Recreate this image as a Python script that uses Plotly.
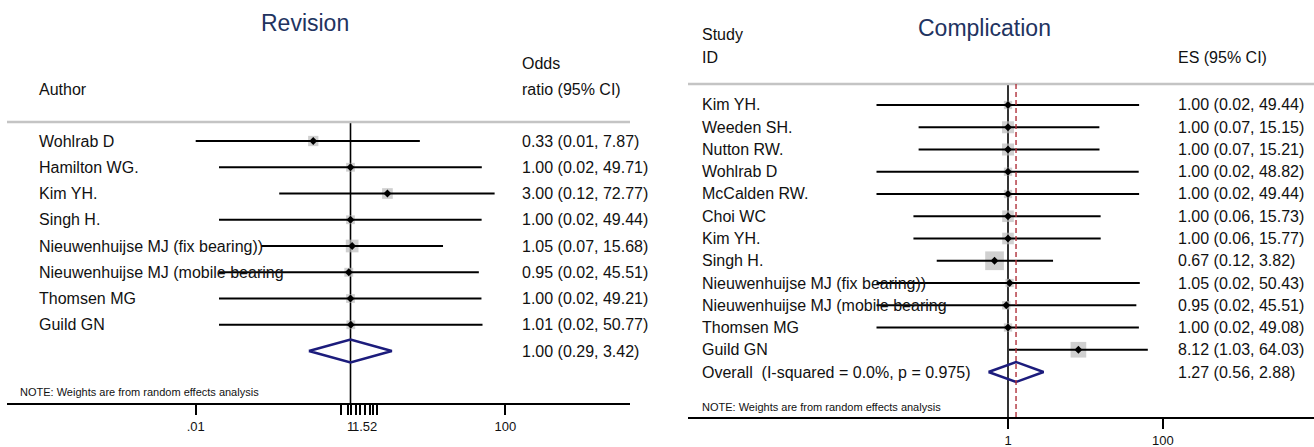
import math
import plotly.graph_objects as go

W, H = 1314, 447
FONT = "Liberation Sans, Arial, sans-serif"

# ---- Revision: odds ratios per study ----
rev_authors = ["Wohlrab D", "Hamilton WG.", "Kim YH.", "Singh H.",
               "Nieuwenhuijse MJ (fix bearing))", "Nieuwenhuijse MJ (mobile bearing",
               "Thomsen MG", "Guild GN"]
rev_or = [0.33, 1.00, 3.00, 1.00, 1.05, 0.95, 1.00, 1.01]
rev_lo = [0.01, 0.02, 0.12, 0.02, 0.07, 0.02, 0.02, 0.02]
rev_hi = [7.87, 49.71, 72.77, 49.44, 15.68, 45.51, 49.21, 50.77]
rev_pooled = [1.00, 0.29, 3.42]          # estimate, lower, upper
rev_ticks = [0.01, 1, 1.52, 100]
rev_ticklabels = [".01", "1", "1.52", "100"]
rev_minor = [0.76, 0.92, 1.19, 1.34, 1.79, 1.98, 2.23]

# ---- Complication: effect sizes per study ----
comp_studies = ["Kim YH.", "Weeden SH.", "Nutton RW.", "Wohlrab D", "McCalden RW.",
                "Choi WC", "Kim YH.", "Singh H.", "Nieuwenhuijse MJ (fix bearing))",
                "Nieuwenhuijse MJ (mobile bearing", "Thomsen MG", "Guild GN"]
comp_es = [1.00, 1.00, 1.00, 1.00, 1.00, 1.00, 1.00, 0.67, 1.05, 0.95, 1.00, 8.12]
comp_lo = [0.02, 0.07, 0.07, 0.02, 0.02, 0.06, 0.06, 0.12, 0.02, 0.02, 0.02, 1.03]
comp_hi = [49.44, 15.15, 15.21, 48.82, 49.44, 15.73, 15.77, 3.82, 50.43, 45.51, 49.08, 64.03]
comp_pooled = [1.27, 0.56, 2.88]
comp_overall_label = "Overall  (I-squared = 0.0%, p = 0.975)"
comp_ticks = [1, 100]
comp_ticklabels = ["1", "100"]

NOTE = "NOTE: Weights are from random effects analysis"

BOX_GREY = "#bcbcbc"
DIAMOND_BLUE = "#1c1c7c"
TITLE_BLUE = "#22335f"


def px_x(p):
    return p / W


def px_y(p):
    return 1 - p / H


def fmt(est, lo, hi):
    return f"{est:.2f} ({lo:.2f}, {hi:.2f})"


fig = go.Figure()


def add_panel(xa, ya, labels, est, lo, hi, pooled, half_h, box_k):
    n = len(labels)
    rows = list(range(n))
    # confidence interval whiskers
    xs, ys = [], []
    for r, a, b in zip(rows, lo, hi):
        xs += [a, b, None]
        ys += [r, r, None]
    # weight boxes: side (px) = box_k / standard error
    se = [(math.log(b) - math.log(a)) / 3.92 for a, b in zip(lo, hi)]
    sizes = [box_k / s for s in se]
    fig.add_trace(go.Scatter(x=est, y=rows, mode="markers", xaxis=xa, yaxis=ya,
                             marker=dict(symbol="square", size=sizes, color=BOX_GREY,
                                         line=dict(width=0)),
                             hoverinfo="skip", showlegend=False))
    fig.add_trace(go.Scatter(x=xs, y=ys, mode="lines", xaxis=xa, yaxis=ya,
                             line=dict(color="black", width=2.2),
                             hoverinfo="skip", showlegend=False))
    fig.add_trace(go.Scatter(x=est, y=rows, mode="markers", xaxis=xa, yaxis=ya,
                             marker=dict(symbol="diamond", size=6, color="black"),
                             hoverinfo="skip", showlegend=False))
    # pooled estimate diamond
    pe, pl, ph = pooled
    r = n
    fig.add_trace(go.Scatter(x=[pl, pe, ph, pe, pl], y=[r, r - half_h, r, r + half_h, r],
                             mode="lines", xaxis=xa, yaxis=ya,
                             line=dict(color=DIAMOND_BLUE, width=2.5),
                             hoverinfo="skip", showlegend=False))


def add_text(x, y, text, xref="paper", yref="paper", size=16, color="#111111",
             xanchor="left"):
    fig.add_annotation(x=x, y=y, xref=xref, yref=yref, text=text, showarrow=False,
                       xanchor=xanchor, yanchor="middle",
                       font=dict(family=FONT, size=size, color=color))


# ---------------- left panel ----------------
add_panel("x", "y", rev_authors, rev_or, rev_lo, rev_hi, rev_pooled, 0.44, 17.5)
for i, (lab, e, a, b) in enumerate(zip(rev_authors, rev_or, rev_lo, rev_hi)):
    add_text(px_x(37), i, lab, yref="y")
    add_text(px_x(520), i, fmt(e, a, b), yref="y")
add_text(px_x(520), len(rev_authors), fmt(*rev_pooled), yref="y")
add_text(px_x(305), px_y(23), "Revision", size=23, color=TITLE_BLUE, xanchor="center")
add_text(px_x(520), px_y(63), "Odds")
add_text(px_x(520), px_y(90), "ratio (95% CI)")
add_text(px_x(37), px_y(90), "Author")
add_text(px_x(18), px_y(392), NOTE, size=11)

# ---------------- right panel ----------------
add_panel("x2", "y2", comp_studies, comp_es, comp_lo, comp_hi, comp_pooled, 0.45, 16.5)
for i, (lab, e, a, b) in enumerate(zip(comp_studies, comp_es, comp_lo, comp_hi)):
    add_text(px_x(700), i, lab, yref="y2")
    add_text(px_x(1176), i, fmt(e, a, b), yref="y2")
add_text(px_x(700), len(comp_studies), comp_overall_label, yref="y2")
add_text(px_x(1176), len(comp_studies), fmt(*comp_pooled), yref="y2")
add_text(px_x(984), px_y(28), "Complication", size=23, color=TITLE_BLUE, xanchor="center")
add_text(px_x(700), px_y(35), "Study")
add_text(px_x(700), px_y(58), "ID")
add_text(px_x(1176), px_y(58), "ES (95% CI)")
add_text(px_x(700), px_y(407), NOTE, size=11)

# reference lines and header rules
for xa, ya in (("x", "y"), ("x2", "y2")):
    fig.add_shape(type="line", xref=xa, yref=f"{ya} domain", x0=1, x1=1, y0=0, y1=1,
                  line=dict(color="black", width=1.6), layer="below")
    fig.add_shape(type="line", xref=f"{xa} domain", yref=f"{ya} domain", x0=0, x1=1,
                  y0=1, y1=1, line=dict(color="#c4c4c4", width=2.5))
fig.add_shape(type="line", xref="x2", yref="y2 domain", x0=comp_pooled[0], x1=comp_pooled[0],
              y0=0, y1=1, line=dict(color="#b0303a", width=1.4, dash="5px,3px"))

# geometry of the two panels (pixels)
PX_PER_DEC = 77.4
L_left, L_right, L_one = 7, 630, 350.5
R_left, R_right, R_one = 688, 1314, 1008
L_top, L_bot, L_row0, L_step = 122, 403, 141, 26.25
R_top, R_bot, R_row0, R_step = 84, 417, 105, 22.25

axis_common = dict(type="log", showgrid=False, zeroline=False, showline=True,
                   linecolor="black", linewidth=2, ticks="outside", ticklen=10,
                   tickwidth=2, tickcolor="black", tickangle=0,
                   tickfont=dict(family=FONT, size=13, color="#111111"))

fig.update_layout(
    width=W, height=H, margin=dict(l=0, r=0, t=0, b=0),
    paper_bgcolor="white", plot_bgcolor="white", showlegend=False,
    xaxis=dict(axis_common,
               domain=[px_x(L_left), px_x(L_right)],
               range=[(L_left - L_one) / PX_PER_DEC, (L_right - L_one) / PX_PER_DEC],
               tickvals=rev_ticks + rev_minor,
               ticktext=rev_ticklabels + [""] * len(rev_minor),
               anchor="y"),
    yaxis=dict(visible=False, domain=[1 - L_bot / H, 1 - L_top / H],
               range=[(L_bot - L_row0) / L_step, (L_top - L_row0) / L_step],
               anchor="x"),
    xaxis2=dict(axis_common,
                domain=[px_x(R_left), px_x(R_right)],
                range=[(R_left - R_one) / PX_PER_DEC, (R_right - R_one) / PX_PER_DEC],
                tickvals=comp_ticks, ticktext=comp_ticklabels,
                anchor="y2"),
    yaxis2=dict(visible=False, domain=[1 - R_bot / H, 1 - R_top / H],
                range=[(R_bot - R_row0) / R_step, (R_top - R_row0) / R_step],
                anchor="x2"),
)

fig.write_html("out.html")
